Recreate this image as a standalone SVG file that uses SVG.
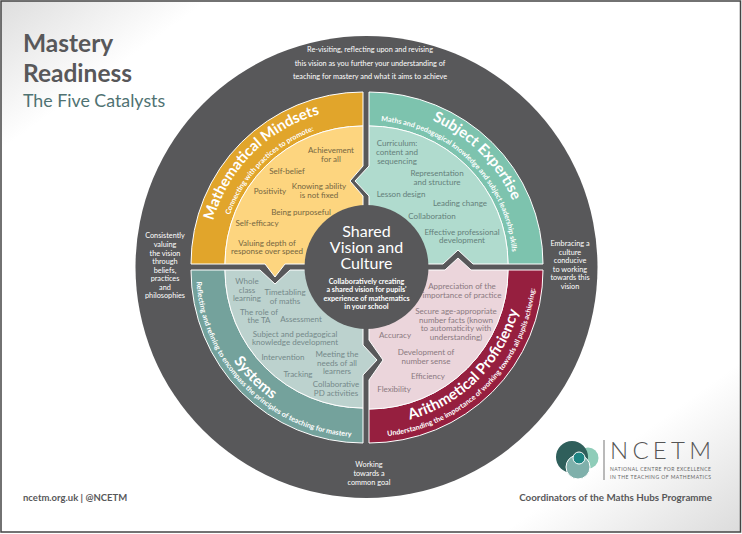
<svg xmlns="http://www.w3.org/2000/svg" width="742" height="534" viewBox="0 0 742 534">
<style>
text{font-family:"Lato","Open Sans","Liberation Sans",sans-serif}
.m{text-anchor:middle}
.w{fill:#fff;font-size:7.300px;text-anchor:middle}
.q{font-size:8px;text-anchor:middle}
.y{fill:#75663f}.t{fill:#64807a}.s{fill:#75898a}.p{fill:#8a7980}
.h{fill:#fff;font-size:15px;font-weight:700;text-anchor:middle}
.sub{fill:#fff;font-size:7.200px;font-weight:700;text-anchor:middle}
.edge{stroke:#fff;stroke-width:1}
</style>
<defs>
<linearGradient id="bg" x1="0" y1="0" x2="1" y2="1">
<stop offset="0" stop-color="#dedede"/><stop offset=".14" stop-color="#fff"/><stop offset=".84" stop-color="#fff"/><stop offset="1" stop-color="#dcdcdc"/>
</linearGradient>
<path id="pY1" d="M207 264A156 156 0 0 1 363 108"/>
<path id="pY2" d="M221 264A142 142 0 0 1 363 122"/>
<path id="pT1" d="M369 107A157 157 0 0 1 526 264"/>
<path id="pT2" d="M369 120.500A143.500 143.500 0 0 1 512.500 264"/>
<path id="pP1" d="M369 425A155 155 0 0 0 524 270"/>
<path id="pP2" d="M369 437A167 167 0 0 0 536 270"/>
<path id="pS1" d="M205 270A158 158 0 0 0 363 428"/>
<path id="pS2" d="M196 270A167 167 0 0 0 363 437"/>
</defs>
<rect x="1" y="1" width="739.500" height="531" fill="url(#bg)" stroke="#444" stroke-width="1.500"/>
<g id="heading">
<text x="23" y="52" font-size="24.500" font-weight="700" fill="#58585a">Mastery</text>
<text x="23" y="82" font-size="24.500" font-weight="700" fill="#58585a">Readiness</text>
<text x="23" y="107" font-size="17.800" fill="#4f7272">The Five Catalysts</text>
</g>
<circle id="outer-ring" cx="366.500" cy="267" r="231" fill="#58585a"/>
<g id="outer-labels">
<text class="w" x="370" y="52">Re-visiting, reflecting upon and revising</text>
<text class="w" x="370" y="65.500">this vision as you further your understanding of</text>
<text class="w" x="370" y="79">teaching for mastery and what it aims to achieve</text>
<g>
<text class="w" x="165" y="238">Consistently</text>
<text class="w" x="165" y="247">valuing</text>
<text class="w" x="165" y="255.500">the vision</text>
<text class="w" x="165" y="264">through</text>
<text class="w" x="165" y="272.500">beliefs,</text>
<text class="w" x="165" y="281">practices</text>
<text class="w" x="165" y="289.500">and</text>
<text class="w" x="165" y="298">philosophies</text>
</g>
<g>
<text class="w" x="570" y="246">Embracing a</text>
<text class="w" x="570" y="254.500">culture</text>
<text class="w" x="570" y="263">conducive</text>
<text class="w" x="570" y="271.500">to working</text>
<text class="w" x="570" y="280">towards this</text>
<text class="w" x="570" y="288.500">vision</text>
</g>
<text class="w" x="369" y="467">Working</text>
<text class="w" x="369" y="476">towards a</text>
<text class="w" x="369" y="485">common goal</text>
</g>
<g id="mathematical-mindsets">
<path class="edge" d="M363 92A172 172 0 0 0 191 264H225A138 138 0 0 1 363 126Z" fill="#e1a52b"/>
<path class="edge" d="M363 126A138 138 0 0 0 225 264H265L275 277L285 264H363V196L350 181L363 166Z" fill="#fdd57f"/>
<text class="h"><textPath href="#pY1" startOffset="50%">Mathematical Mindsets</textPath></text>
<text class="sub"><textPath href="#pY2" startOffset="50%">Connecting with practices to promote:</textPath></text>
<text class="q y" x="331" y="153">Achievement</text><text class="q y" x="331" y="161.500">for all</text>
<text class="q y" x="287" y="174">Self-belief</text>
<text class="q y" x="270" y="194">Positivity</text>
<text class="q y" x="319" y="189">Knowing ability</text><text class="q y" x="319" y="198">is not fixed</text>
<text class="q y" x="301" y="215">Being purposeful</text>
<text class="q y" x="257" y="226">Self-efficacy</text>
<text class="q y" x="267" y="246">Valuing depth of</text><text class="q y" x="267" y="254">response over speed</text>
</g>
<g id="subject-expertise">
<path class="edge" d="M369 92A174 172 0 0 1 543 264H508A139 138 0 0 0 369 126Z" fill="#7dc3ae"/>
<path class="edge" d="M369 126A139 138 0 0 1 508 264H473L458 250L443 264H369V196L355 181L369 166Z" fill="#b0dbce"/>
<text class="h"><textPath href="#pT1" startOffset="50%">Subject Expertise</textPath></text>
<text class="sub"><textPath href="#pT2" startOffset="50%">Maths and pedagogical knowledge and subject leadership skills</textPath></text>
<text class="q t" x="397" y="146">Curriculum:</text><text class="q t" x="397" y="155">content and</text><text class="q t" x="397" y="163.500">sequencing</text>
<text class="q t" x="437" y="176">Representation</text><text class="q t" x="437" y="184.500">and structure</text>
<text class="q t" x="401" y="197">Lesson design</text>
<text class="q t" x="460" y="206">Leading change</text>
<text class="q t" x="432" y="219">Collaboration</text>
<text class="q t" x="462" y="235">Effective professional</text><text class="q t" x="462" y="243">development</text>
</g>
<g id="systems">
<path class="edge" d="M191 270A172 173 0 0 0 363 443V408A138 138 0 0 1 225 270Z" fill="#74a29c"/>
<path class="edge" d="M225 270A138 138 0 0 0 363 408V375L377 360L363 345V270H290L275 284L260 270Z" fill="#bcd2ce"/>
<text class="h"><textPath href="#pS1" startOffset="50%">Systems</textPath></text>
<text class="sub"><textPath href="#pS2" startOffset="50%">Reflecting and refining to encompass the principles of teaching for mastery</textPath></text>
<text class="q s" x="247" y="284">Whole</text><text class="q s" x="247" y="292.500">class</text><text class="q s" x="247" y="301">learning</text>
<text class="q s" x="285" y="295">Timetabling</text><text class="q s" x="285" y="303.500">of maths</text>
<text class="q s" x="259" y="315">The role of</text><text class="q s" x="259" y="323">the TA</text>
<text class="q s" x="301" y="322">Assessment</text>
<text class="q s" x="295" y="336.500">Subject and pedagogical</text><text class="q s" x="295" y="345">knowledge development</text>
<text class="q s" x="283" y="360">Intervention</text>
<text class="q s" x="337" y="357">Meeting the</text><text class="q s" x="337" y="365.500">needs of all</text><text class="q s" x="337" y="374">learners</text>
<text class="q s" x="298" y="377">Tracking</text>
<text class="q s" x="336" y="387">Collaborative</text><text class="q s" x="336" y="395.500">PD activities</text>
</g>
<g id="arithmetical-proficiency">
<path class="edge" d="M543 270A174 173 0 0 1 369 443V409A139 139 0 0 0 508 270Z" fill="#961f3f"/>
<path class="edge" d="M508 270A139 139 0 0 1 369 409V380L383 360L369 340V270H445L458 258L471 270Z" fill="#ebd5db"/>
<text class="h"><textPath href="#pP1" startOffset="50%">Arithmetical Proficiency</textPath></text>
<text class="sub"><textPath href="#pP2" startOffset="50%">Understanding the importance of working towards all pupils achieving:</textPath></text>
<text class="q p" x="462" y="289">Appreciation of the</text><text class="q p" x="462" y="297.500">importance of practice</text>
<text class="q p" x="456" y="314">Secure age-appropriate</text><text class="q p" x="456" y="322.500">number facts (known</text><text class="q p" x="456" y="331">to automaticity with</text><text class="q p" x="456" y="339.500">understanding)</text>
<text class="q p" x="395" y="338">Accuracy</text>
<text class="q p" x="426" y="355">Development of</text><text class="q p" x="426" y="364">number sense</text>
<text class="q p" x="428" y="379">Efficiency</text>
<text class="q p" x="394" y="392">Flexibility</text>
</g>
<g id="shared-vision">
<circle cx="366.500" cy="267" r="62" fill="#58585a"/>
<text class="m" x="366.500" y="237" font-size="16" fill="#fff">Shared</text>
<text class="m" x="366.500" y="253" font-size="16" fill="#fff">Vision and</text>
<text class="m" x="366.500" y="269" font-size="16" fill="#fff">Culture</text>
<text class="sub" x="366.500" y="283.500">Collaboratively creating</text>
<text class="sub" x="366.500" y="292">a shared vision for pupils'</text>
<text class="sub" x="366.500" y="300.500">experience of mathematics</text>
<text class="sub" x="366.500" y="309">in your school</text>
</g>
<g id="logo">
<circle cx="588" cy="458" r="10.500" fill="#8fcdb9"/>
<circle cx="572" cy="457" r="16" fill="#2f5f5b"/>
<circle cx="578" cy="467" r="12" fill="#7fb0ab" stroke="#fff" stroke-width="1"/>
<circle cx="579" cy="458" r="6" fill="#1e8583" stroke="#fff" stroke-width="1"/>
<rect x="603.500" y="440" width="1" height="40" fill="#777"/>
<text x="610" y="459" font-size="24" font-weight="300" fill="#555" textLength="101">NCETM</text>
<text x="610" y="471" font-size="5" fill="#666" textLength="101">NATIONAL CENTRE FOR EXCELLENCE</text>
<text x="610" y="479" font-size="5" fill="#666" textLength="101">IN THE TEACHING OF MATHEMATICS</text>
</g>
<g id="footer">
<text x="23" y="501" font-size="9.500" font-weight="700" fill="#58585a">ncetm.org.uk | @NCETM</text>
<text x="712" y="501" font-size="9.800" font-weight="700" fill="#58585a" text-anchor="end">Coordinators of the Maths Hubs Programme</text>
</g>
</svg>
